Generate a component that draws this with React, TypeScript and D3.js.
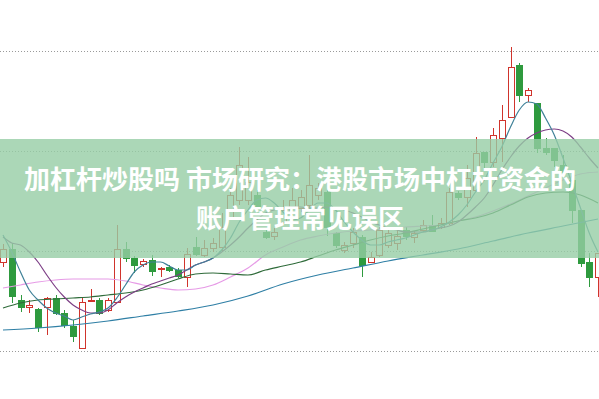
import React from "react";
import * as d3 from "d3";

// ---- data (price units, arbitrary scale) ----
const opens = [90,103,52,45,43,45,54,39,26,4, 51,52,42,50,103,94,88,92,83,85, 82,75,105,97,104,105,135,152,152,157, 120,116,130,140,144,147,157,160,119,102, 109,115,90,97,107,109,122,115,122,127, 125,129,159,155,162,200,190,214,235,287, 257,249,204,204,187,172,142,90,75];
const closes = [103,56,45,47,25,54,39,27,16,50, 52,39,52,103,94,87,91,81,84,82, 76,98,98,104,109,125,157,187,170,145, 115,120,142,152,155,167,164,125,107,107, 120,87,95,122,119,116,116,119,127,121, 129,160,155,174,199,190,217,232,285,257, 262,204,200,192,180,142,89,75,99];
const highs = [108,109,57,52,44,55,57,42,32,55, 63,54,54,127,110,96,93,97,85,87, 84,104,115,112,114,139,164,205,195,162, 122,124,152,164,162,197,169,162,120,110, 124,117,100,125,124,124,125,121,132,137, 134,164,161,187,215,200,224,247,305,289, 264,249,214,204,197,175,142,99,99];
const lows = [85,49,40,39,20,17,37,24,10,4, 50,37,40,49,90,79,85,76,75,80, 74,65,96,95,100,100,132,147,147,142, 113,112,127,137,140,142,152,116,104,99, 104,75,89,95,104,102,112,109,120,120, 123,127,152,145,160,182,185,190,235,250, 250,199,197,185,175,129,85,65,55];

const ma5 = [117,100,80,62,52,44,39,36,32,35, 38,40,44,54,67,80,87,90,90,86, 82,82,87,90,94,102,114,130,142,152, 154,149,140,132,134,142,149,149,142,130, 120,112,107,107,110,112,114,117,120,122, 125,130,137,147,160,172,189,205,225,242, 250,248,234,217,194,169,144,119,100];
const ma10 = [115,109,107,100,90,77,65,55,47,42, 39,39,42,49,55,60,64,68,71,74, 77,82,87,90,94,100,107,115,124,132, 139,142,144,145,145,144,144,145,144,142, 139,135,130,127,124,122,120,120,120,122, 124,126,130,137,145,154,167,182,195,206, 214,219,222,223,221,215,205,194,184];
const ma20Idx = [0,2,4,6,8,10,12,14,16,18,20,22,24,26,28,30,32,34,36,38,40,42,44,46,48,50,52,54,56,58,60,62,64,66,68];
const ma20 = [44,49,52,53,54,55,57,59,62,67,73,78,79,78,77,82,86,90,96,102,107,112,116,119,123,127,131,134,139,147,155,159,160,157,149];
const ma30Idx = [0,2,4,6,8,10,12,14,16,18,20,22,24,26,28,30,32,34,36,38,40,42,44,46,48,50,52,54,56,58,60,62,64,66,68];
const ma30 = [64,67,70,72,73,73,73,71,67,64,62,63,67,75,84,97,105,112,116,119,121,122,123,125,126,127,131,135,141,148,156,164,172,178,180];
const ma60Idx = [0,4,8,12,16,20,24,28,32,36,40,44,48,52,56,60,64,68];
const ma60 = [22,24,27,31,36,41,47,56,68,77,84,91,97,103,111,119,126,133];
const gridTicks = [0, 100, 200, 300];
const titleLines = ["加杠杆炒股吗 市场研究：港股市场中杠杆资金的", "账户管理常见误区"];

const W = 599, H = 399;
const UP = "#d0342c";
const DOWN = "#2e9a3e";

export default function App() {
  const x = d3.scaleLinear().domain([0, opens.length - 1]).range([3, 598]);
  const y = d3.scaleLinear().domain([0, 300]).range([352, 52]);

  const mk = (vals: number[], idx?: number[]) => {
    const pts: [number, number][] = vals.map((v, k) => [x(idx ? idx[k] : k), y(v)]);
    return d3.line().curve(d3.curveMonotoneX)(pts) || "";
  };

  const lines = [
    { d: mk(ma60, ma60Idx), c: "#2f7fa5" },
    { d: mk(ma30, ma30Idx), c: "#e69ae6" },
    { d: mk(ma20, ma20Idx), c: "#2f6b3a" },
    { d: mk(ma10), c: "#7d3f86" },
    { d: mk(ma5), c: "#3f8198" },
  ];

  return (
    <svg width={W} height={H} style={{ position: "absolute", left: 0, top: 0, background: "#fff" }}>
      {gridTicks.map((t) => (
        <line key={t} x1={0} x2={W} y1={Math.round(y(t)) - 0.5} y2={Math.round(y(t)) - 0.5}
          stroke="#9a9a9a" strokeWidth={1} strokeDasharray="1 2" />
      ))}
      <g shapeRendering="crispEdges">
        {opens.map((o, i) => {
          const c = closes[i];
          const cx = Math.round(x(i));
          const up = c >= o;
          const col = up ? UP : DOWN;
          const top = y(Math.max(o, c));
          const bot = y(Math.min(o, c));
          const h = Math.max(1, bot - top);
          return (
            <g key={i}>
              <line x1={cx + 0.5} x2={cx + 0.5} y1={y(highs[i])} y2={y(lows[i])} stroke={col} strokeWidth={1} />
              {up ? (
                <rect x={cx - 2.5} y={top} width={6} height={h} fill="#fff" stroke={col} strokeWidth={1} />
              ) : (
                <rect x={cx - 2.5} y={top} width={6} height={h} fill={col} stroke={col} strokeWidth={1} />
              )}
            </g>
          );
        })}
      </g>
      {lines.map((l, k) => (
        <path key={k} d={l.d} fill="none" stroke={l.c} strokeWidth={1.2} />
      ))}
      <rect x={0} y={139} width={W} height={119} fill="rgb(150,205,165)" opacity={0.8} />
      <g fontFamily="'Noto Sans CJK SC', sans-serif" fontWeight="bold" fontSize={26} fill="#fff" textAnchor="middle">
        <text x={300} y={189}>{titleLines[0]}</text>
        <text x={300} y={228}>{titleLines[1]}</text>
      </g>
    </svg>
  );
}
